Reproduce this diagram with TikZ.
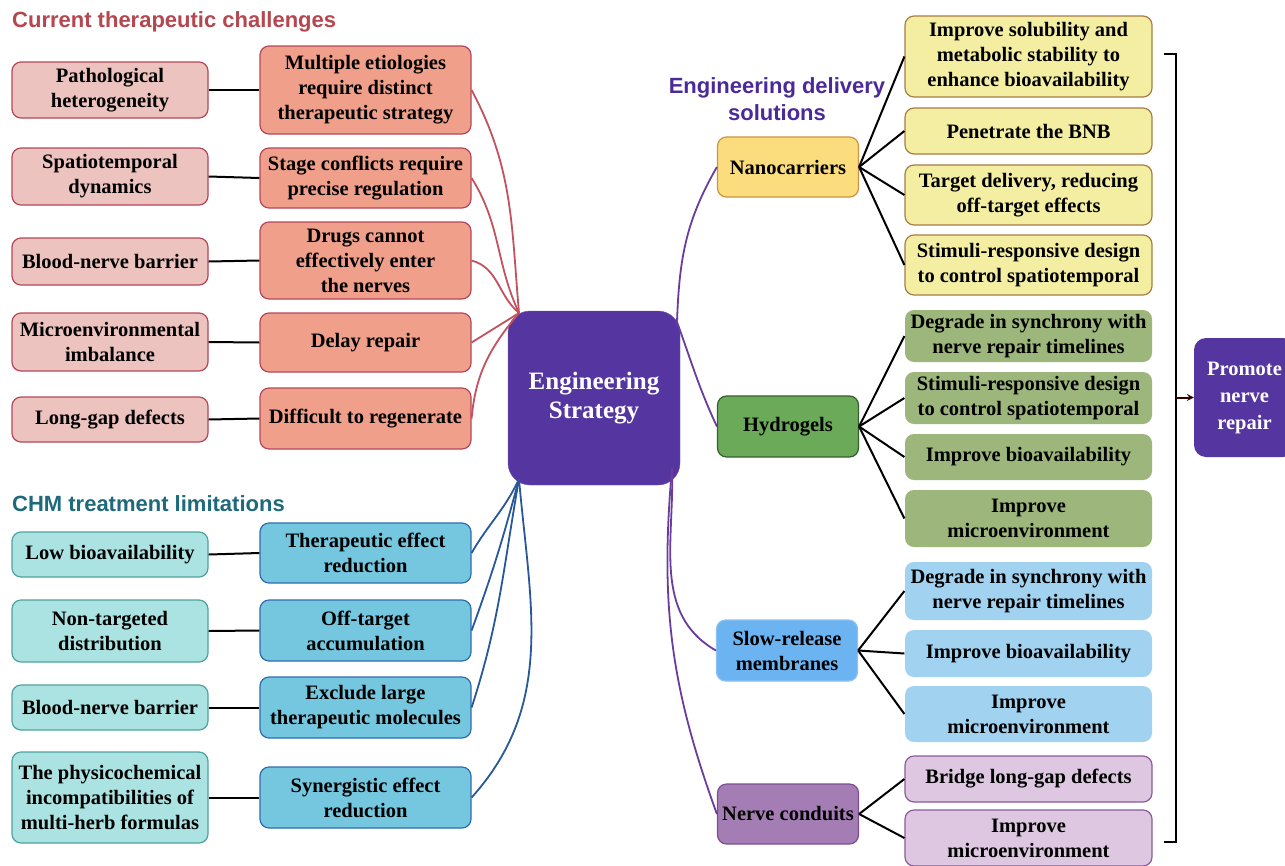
\documentclass[tikz,border=0pt]{standalone}
\usepackage{fontspec}
\setmainfont{Liberation Serif}
\setsansfont{Liberation Sans}
\usetikzlibrary{arrows,positioning}

\definecolor{redtitle}{HTML}{B4474F}
\definecolor{tealtitle}{HTML}{1E6A7B}
\definecolor{purptitle}{HTML}{4B2A98}
\definecolor{pinkfill}{HTML}{ECC3BE}
\definecolor{salmonfill}{HTML}{F0A08A}
\definecolor{redline}{HTML}{B4475B}
\definecolor{redarc}{HTML}{C3525F}
\definecolor{cyanfill}{HTML}{AAE3E1}
\definecolor{cyanline}{HTML}{4FA39E}
\definecolor{bluefill}{HTML}{74C7DE}
\definecolor{blueline}{HTML}{2F6DAE}
\definecolor{bluearc}{HTML}{28579A}
\definecolor{corefill}{HTML}{5535A0}
\definecolor{purparc}{HTML}{6A3C9E}
\definecolor{nanofill}{HTML}{FCDD7E}
\definecolor{nanoline}{HTML}{C9953E}
\definecolor{hydrofill}{HTML}{6BAA59}
\definecolor{hydroline}{HTML}{355F2B}
\definecolor{slowfill}{HTML}{6CB3F1}
\definecolor{conduitfill}{HTML}{A57DB5}
\definecolor{conduitline}{HTML}{7D4E90}
\definecolor{yellowfill}{HTML}{F4EEA2}
\definecolor{yellowline}{HTML}{A77D45}
\definecolor{greenfill}{HTML}{9CB67B}
\definecolor{skyfill}{HTML}{A1D2EF}
\definecolor{lavfill}{HTML}{DDC7E1}
\definecolor{lavline}{HTML}{8A5B9B}

\newcommand\boxfont{\fontsize{20.5}{25}\selectfont\bfseries}

\begin{document}
\begin{tikzpicture}
	[x=1pt,y=-1pt,
	box/.style={shape=rectangle,rounded corners=9,align=center,inner sep=2pt,
		line width=1.2pt,font=\boxfont},
	cause/.style={box,draw=redline,fill=pinkfill,minimum width=196},
	issue/.style={box,draw=redline,fill=salmonfill,minimum width=211},
	limit/.style={box,draw=cyanline,fill=cyanfill,minimum width=196},
	effect/.style={box,draw=blueline,fill=bluefill,minimum width=211},
	carrier/.style={box,minimum width=141},
	leaf/.style={box,minimum width=247},
	title/.style={font=\sffamily\bfseries\fontsize{22}{27}\selectfont,inner sep=0pt},
	link/.style={line width=2pt,black},
	arc/.style={line width=1.8pt}]

	\fill[white] (0,0) rectangle (1285,865);
	\useasboundingbox (0,0) rectangle (1285,865);

	% titles
	\node[title,text=redtitle,anchor=west] (t1) at (12,22) {Current therapeutic challenges};
	\node[title,text=tealtitle,anchor=west] (t2) at (12,504) {CHM treatment limitations};
	\node[title,text=purptitle,align=center] (t3) at (777,99) {Engineering delivery\\solutions};

	% current therapeutic challenges
	\node (p1) [cause,minimum height=56] at (110,90) {Pathological\\heterogeneity};
	\node (p2) [cause,minimum height=57] at (110,176.5) {Spatiotemporal\\dynamics};
	\node (p3) [cause,minimum height=47] at (110,261.5) {Blood-nerve barrier};
	\node (p4) [cause,minimum height=58] at (110,342) {Microenvironmental\\imbalance};
	\node (p5) [cause,minimum height=45] at (110,419.5) {Long-gap defects};

	\node (c1) [issue,minimum height=88] at (365.5,90) {Multiple etiologies\\require distinct\\therapeutic strategy};
	\node (c2) [issue,minimum height=60] at (365.5,178) {Stage conflicts require\\precise regulation};
	\node (c3) [issue,minimum height=77] at (365.5,260.5) {Drugs cannot\\effectively enter\\the nerves};
	\node (c4) [issue,minimum height=59] at (365.5,342.5) {Delay repair};
	\node (c5) [issue,minimum height=61] at (365.5,418.5) {Difficult to regenerate};

	% CHM treatment limitations
	\node (q1) [limit,minimum height=45] at (110,554.5) {Low bioavailability};
	\node (q2) [limit,minimum height=62] at (110,631) {Non-targeted\\distribution};
	\node (q3) [limit,minimum height=45] at (110,707.5) {Blood-nerve barrier};
	\node (q4) [limit,minimum height=91] at (110,797.5) {The physicochemical\\incompatibilities of\\multi-herb formulas};

	\node (b1) [effect,minimum height=60] at (365.5,553) {Therapeutic effect\\reduction};
	\node (b2) [effect,minimum height=61] at (365.5,630.5) {Off-target\\accumulation};
	\node (b3) [effect,minimum height=61] at (365.5,707.5) {Exclude large\\therapeutic molecules};
	\node (b4) [effect,minimum height=61] at (365.5,797.5) {Synergistic effect\\reduction};

	% centre
	\node (core) [shape=rectangle,rounded corners=22,fill=corefill,draw=corefill!85!white,
		minimum width=172,minimum height=174,align=center,text=white,
		font=\fontsize{25}{29}\selectfont\bfseries] at (594,398) {Engineering\\Strategy};

	% engineering delivery solutions
	\node (n1) [carrier,draw=nanoline,fill=nanofill,minimum height=60] at (788,167) {Nanocarriers};
	\node (n2) [carrier,draw=hydroline,fill=hydrofill,minimum height=61] at (788,426.5) {Hydrogels};
	\node (n3) [carrier,draw=slowfill!80!white,fill=slowfill,minimum height=61] at (787,650.5) {Slow-release\\membranes};
	\node (n4) [carrier,draw=conduitline,fill=conduitfill,minimum height=60] at (788,814) {Nerve conduits};

	\node (y1) [leaf,draw=yellowline,fill=yellowfill,minimum height=81] at (1028.5,56.5) {Improve solubility and\\metabolic stability to\\enhance bioavailability};
	\node (y2) [leaf,draw=yellowline,fill=yellowfill,minimum height=46] at (1028.5,131) {Penetrate the BNB};
	\node (y3) [leaf,draw=yellowline,fill=yellowfill,minimum height=60] at (1028.5,195) {Target delivery, reducing\\off-target effects};
	\node (y4) [leaf,draw=yellowline,fill=yellowfill,minimum height=60] at (1028.5,265) {Stimuli-responsive design\\to control spatiotemporal};

	\node (g1) [leaf,fill=greenfill,minimum height=52] at (1028.5,336) {Degrade in synchrony with\\nerve repair timelines};
	\node (g2) [leaf,fill=greenfill,minimum height=52] at (1028.5,398) {Stimuli-responsive design\\to control spatiotemporal};
	\node (g3) [leaf,fill=greenfill,minimum height=46] at (1028.5,457) {Improve bioavailability};
	\node (g4) [leaf,fill=greenfill,minimum height=57] at (1028.5,518.5) {Improve\\microenvironment};

	\node (s1) [leaf,fill=skyfill,minimum height=58] at (1028.5,591) {Degrade in synchrony with\\nerve repair timelines};
	\node (s2) [leaf,fill=skyfill,minimum height=47] at (1028.5,653.5) {Improve bioavailability};
	\node (s3) [leaf,fill=skyfill,minimum height=56] at (1028.5,714) {Improve\\microenvironment};

	\node (v1) [leaf,draw=lavline,fill=lavfill,minimum height=46] at (1028.5,779) {Bridge long-gap defects};
	\node (v2) [leaf,draw=lavline,fill=lavfill,minimum height=56] at (1028.5,838) {Improve\\microenvironment};

	\node (goal) [shape=rectangle,rounded corners=12,fill=corefill,minimum width=101,minimum height=119,
		align=center,text=white,font=\fontsize{20.5}{27}\selectfont\bfseries] at (1244.5,397.5) {Promote\\nerve\\repair};

	% hubs on the centre box
	\coordinate (hubR) at (519,313);
	\coordinate (hubB) at (519,479);
	\coordinate (hubP) at (677,322);
	\coordinate (hubQ) at (672,468);

	% left links
	\foreach \i in {1,...,5} \draw[link] (p\i.east) -- (c\i.west);
	\foreach \i in {1,...,4} \draw[link] (q\i.east) -- (b\i.west);

	\draw[arc,redarc] (c1.east) to[out=-62,in=95] (hubR);
	\draw[arc,redarc] (c2.east) to[out=-58,in=115] (hubR);
	\draw[arc,redarc] (c3.east) to[out=-15,in=140] (hubR);
	\draw[arc,redarc] (c4.east) -- (hubR);
	\draw[arc,redarc] (c5.east) to[out=85,in=-130] (hubR);

	\draw[arc,bluearc] (b1.east) to[out=60,in=-115] (hubB);
	\draw[arc,bluearc] (b2.east) to[out=70,in=-105] (hubB);
	\draw[arc,bluearc] (b3.east) to[out=72,in=-100] (hubB);
	\draw[arc,bluearc] (b4.east) to[out=48,in=-85] (hubB);

	% right links
	\draw[arc,purparc] (hubP) to[out=88,in=-120] (n1.west);
	\draw[arc,purparc] (hubP) to[out=-70,in=115] (n2.west);
	\draw[arc,purparc] (hubQ) to[out=-88,in=150] (n3.west);
	\draw[arc,purparc] (hubQ) to[out=-95,in=110] (n4.west);

	\foreach \j in {1,...,4} \draw[link] (n1.east) -- (y\j.west);
	\foreach \j in {1,...,4} \draw[link] (n2.east) -- (g\j.west);
	\foreach \j in {1,...,3} \draw[link] (n3.east) -- (s\j.west);
	\foreach \j in {1,2} \draw[link] (n4.east) -- (v\j.west);

	% bracket
	\coordinate (brtop) at (1164,54);
	\coordinate (brbot) at (1164,842);
	\coordinate (brmid) at (1176,397.5);
	\draw[line width=2pt] (brtop) -- (1176,54) -- (1176,842) -- (brbot);
	\draw[line width=2pt,draw=black!80!red,-stealth] (brmid) -- (goal.west);
\end{tikzpicture}
\end{document}
